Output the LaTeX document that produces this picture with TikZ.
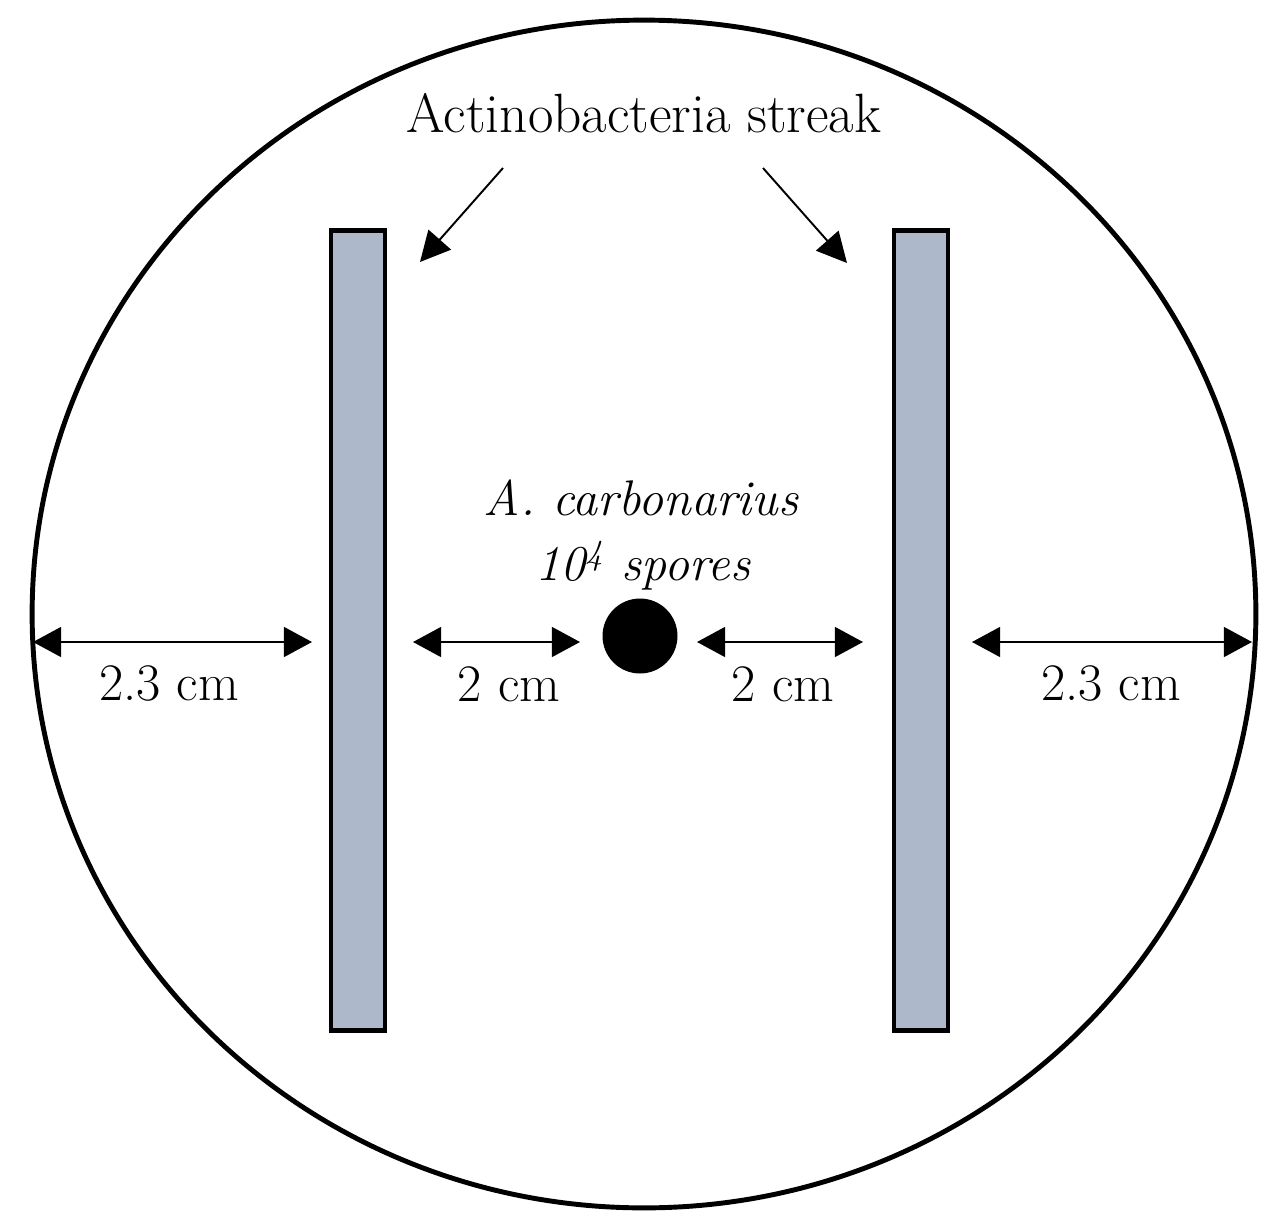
\documentclass[tikz,border=0pt]{standalone}
\usetikzlibrary{arrows.meta,shapes.geometric}
\definecolor{streakfill}{RGB}{173,185,202}
\begin{document}
\begin{tikzpicture}[x=0.02cm,y=-0.02cm,
  lbl/.style={inner sep=0pt,anchor=base,font=\fontsize{30}{36}\selectfont},
  ital/.style={inner sep=0pt,anchor=base,font=\fontsize{28.5}{34}\selectfont\itshape},
  streak/.style={draw=black,line width=2.8pt,fill=streakfill,rectangle,minimum width=1.08cm,minimum height=16.02cm,inner sep=0pt},
  dim/.style={line width=1.2pt,{Triangle[length=16pt,width=17pt]}-{Triangle[length=16pt,width=17pt]}},
  point/.style={line width=1.1pt,-{Triangle[length=17pt,width=17pt]}}]
\useasboundingbox (0,0) rectangle (1278,1227);
% plate
\node[draw=black,line width=2.8pt,ellipse,minimum width=24.48cm,minimum height=23.76cm,inner sep=0pt] (plate) at (644,614) {};
% streaks
\node[streak] (lstreak) at (358,630.5) {};
\node[streak] (rstreak) at (921,630.5) {};
% fungus
\node[circle,fill=black,minimum size=1.5cm,inner sep=0pt] (spot) at (640,636) {};
% labels
\node[lbl,font=\fontsize{31.5}{38}\selectfont] (title) at (644,132) {Actinobacteria streak};
\node[ital] (sp1) at (641,515) {A.\ carbonarius};
\node[ital] (sp2) at (643,580) {10\textsuperscript{4} spores};
\node[lbl] (d1) at (169,700) {2.3 cm};
\node[lbl] (d2) at (509,701) {2 cm};
\node[lbl] (d3) at (783,701) {2 cm};
\node[lbl] (d4) at (1111,700) {2.3 cm};
% pointer arrows
\coordinate (pl0) at (503,168);
\coordinate (pl1) at (420,262);
\coordinate (pr0) at (763,168);
\coordinate (pr1) at (847,263);
\draw[point] (pl0) -- (pl1);
\draw[point] (pr0) -- (pr1);
% dimension arrows
\coordinate (a1) at (33,642);
\coordinate (a2) at (312,642);
\coordinate (b1) at (413,642);
\coordinate (b2) at (580,642);
\coordinate (c1) at (697,642);
\coordinate (c2) at (863,642);
\coordinate (e1) at (972,642);
\coordinate (e2) at (1252,642);
\draw[dim] (a1) -- (a2);
\draw[dim] (b1) -- (b2);
\draw[dim] (c1) -- (c2);
\draw[dim] (e1) -- (e2);
\end{tikzpicture}
\end{document}
